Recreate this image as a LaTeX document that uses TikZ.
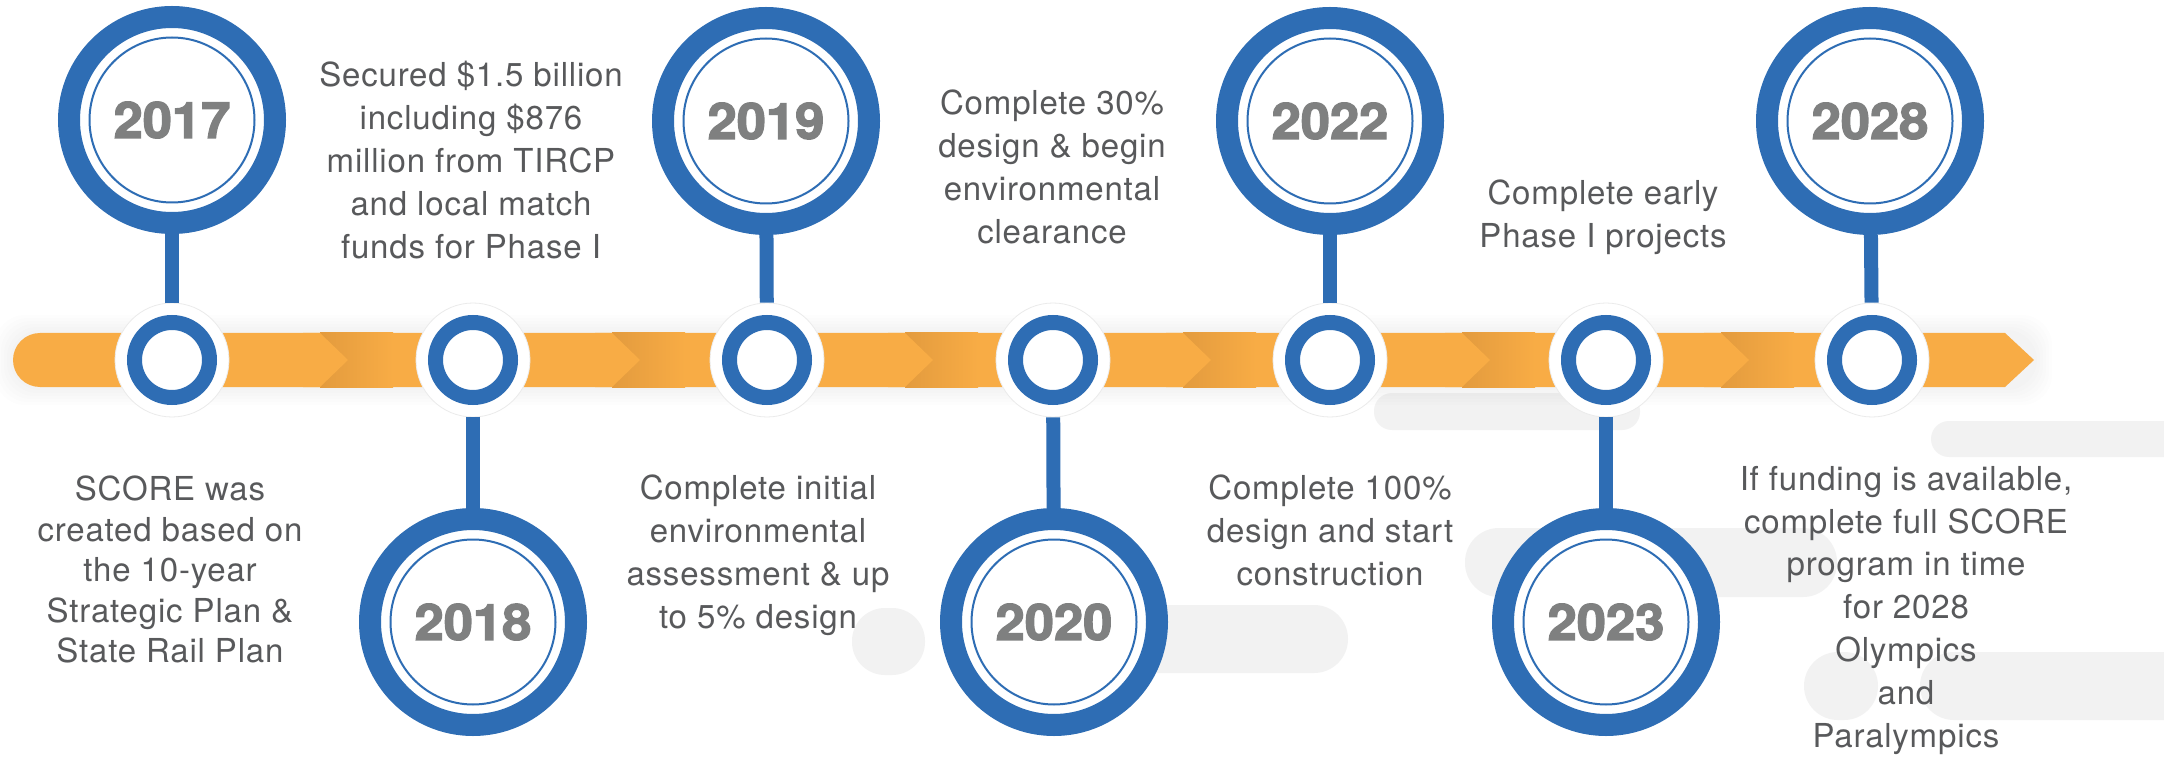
\documentclass[tikz,border=0pt]{standalone}
\usepackage{fontspec}
\setmainfont{TeX Gyre Heros}[LetterSpace=2.5]
\newfontfamily\yearfont{TeX Gyre Heros}[BoldFeatures={FakeBold=2.6,FakeStretch=1.05}]
\definecolor{blueC}{HTML}{2E6DB4}
\definecolor{orangeC}{HTML}{F8AC45}
\definecolor{orangeD}{HTML}{E39B3E}
\definecolor{yearC}{HTML}{7F8080}
\definecolor{textC}{HTML}{58595B}
\definecolor{pillC}{HTML}{F2F2F2}
\begin{document}
\begin{tikzpicture}[x=1pt,y=-1pt,
  desc/.style={align=center, text=textC, font=\fontsize{33}{43}\selectfont, inner sep=0pt, anchor=north},
  bigc/.style={circle, minimum size=206pt, inner sep=0pt, draw=blueC, line width=22pt, fill=white,
    text=yearC, font=\yearfont\bfseries\fontsize{50}{50}\selectfont},
  halo/.style={circle, minimum size=114pt, inner sep=0pt, fill=white, draw=black!8, line width=0.8pt},
  ring/.style={circle, minimum size=75pt, inner sep=0pt, draw=blueC, line width=15pt, fill=white},
  stem/.style={draw=blueC, line width=14pt},
  thin/.style={draw=blueC, line width=2pt},
  pill/.style={fill=pillC}
]
\useasboundingbox[fill=white] (0,0) rectangle (2164,759);

% background pills
\fill[pill, rounded corners=18pt] (1374,393) rectangle (1640,430);
\fill[pill, rounded corners=18pt] (1931,421) rectangle (2220,457);
\fill[pill, rounded corners=34pt] (1465,528) rectangle (1837,597);
\fill[pill, rounded corners=34pt] (1100,605) rectangle (1348,673);
\fill[pill, rounded corners=33pt] (852,608) rectangle (925,675);
\fill[pill, rounded corners=34pt] (1804,652) rectangle (1878,720);
\fill[pill, rounded corners=34pt] (1920,652) rectangle (2220,720);

% bar shadow
\foreach \d in {3,6,...,18} {
  \fill[black, opacity=0.008, rounded corners=30pt] ({13-\d},{333-\d}) rectangle ({2034+\d},{387+\d});
}

% bar
\fill[orangeC] (40,333) -- (2005,333) -- (2034,360) -- (2005,387) -- (40,387) -- cycle;
\fill[orangeC] (40,360) circle[radius=27];
\foreach \t in {348,640,933,1211,1490,1749} {
  \shade[left color=orangeD, right color=orangeC] ({\t-28},333) rectangle ({\t+45},387);
  \fill[orangeC] ({\t-45},333) -- ({\t-28},333) -- (\t,360) -- ({\t-28},387) -- ({\t-45},387) -- cycle;
}

% small circles on the bar
\foreach \n/\x in {17/172, 18/473, 19/767, 20/1053, 22/1330, 23/1606, 28/1872} {
  \node[halo] (s\n) at (\x,360) {};
  \node[ring] (r\n) at (s\n.center) {};
}

% big year circles
\node[bigc] (y17) at (172,120) {2017};
\node[bigc] (y18) at (473,622) {2018};
\node[bigc] (y19) at (766,121) {2019};
\node[bigc] (y20) at (1054,622) {2020};
\node[bigc] (y22) at (1330,121) {2022};
\node[bigc] (y23) at (1606,622) {2023};
\node[bigc] (y28) at (1870,121) {2028};
\foreach \n in {17,18,19,20,22,23,28} {
  \draw[thin] (y\n.center) circle[radius=82.5];
  \draw[stem] (y\n) -- (s\n);
}

% descriptions
\node[desc] (t18) at (471,61) {Secured \$1.5 billion\\including \$876\\million from TIRCP\\and local match\\funds for Phase I};
\node[desc] (t20) at (1052,90) {Complete 30\%\\design \& begin\\environmental\\clearance};
\node[desc] (t23) at (1603,180) {Complete early\\Phase I projects};
\node[desc, font=\fontsize{33}{40.5}\selectfont] (t17) at (170,476) {SCORE was\\created based on\\the 10-year\\Strategic Plan \&\\State Rail Plan};
\node[desc] (t19) at (758,475) {Complete initial\\environmental\\assessment \& up\\to 5\% design};
\node[desc] (t22) at (1330,475) {Complete 100\%\\design and start\\construction};
\node[desc, font=\fontsize{33}{42.8}\selectfont] (t28) at (1906,466) {If funding is available,\\complete full SCORE\\program in time\\for 2028\\Olympics\\and\\Paralympics};
\end{tikzpicture}
\end{document}
